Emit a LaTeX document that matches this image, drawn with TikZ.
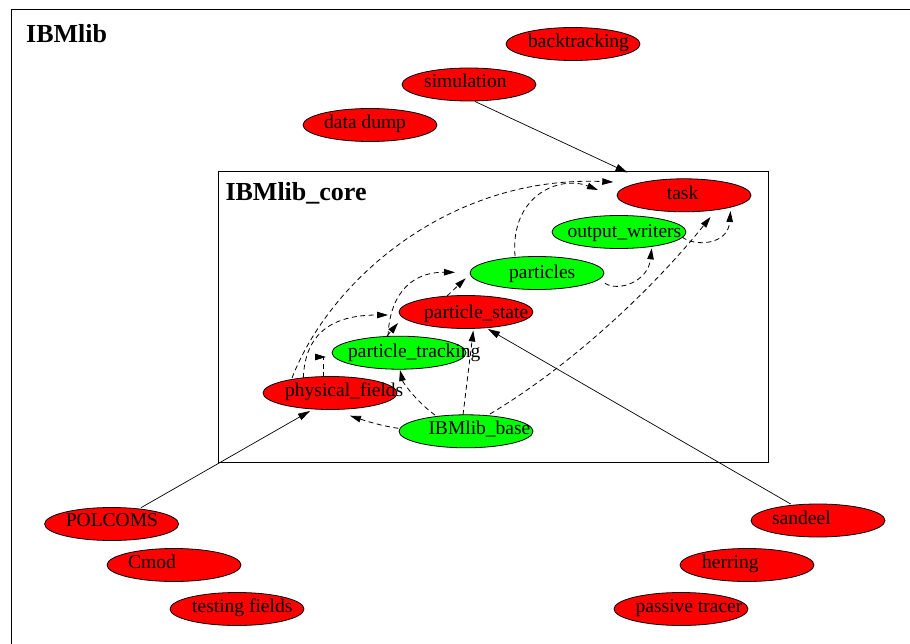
\documentclass[tikz,border=0pt]{standalone}
\usepackage{fontspec}
\setmainfont{Liberation Serif}
\usetikzlibrary{arrows.meta,shapes.geometric}
\tikzset{
  blob/.style={ellipse, draw=black, line width=0.8pt, minimum width=134pt, minimum height=33pt, inner sep=0pt},
  redblob/.style={blob, fill=red},
  greenblob/.style={blob, fill=green},
  lbl/.style={anchor=base west, inner sep=0pt, font=\fontsize{19.5pt}{22pt}\selectfont},
  ttl/.style={anchor=base west, inner sep=0pt, font=\bfseries\fontsize{26pt}{30pt}\selectfont},
  frame/.style={line width=0.8pt},
  solidarrow/.style={line width=0.7pt, -{Triangle[length=12pt,width=7pt]}},
  dasharrow/.style={line width=0.8pt, dash pattern=on 5pt off 3.5pt, -{Triangle[length=11pt,width=6.5pt]}},
}
\begin{document}
\begin{tikzpicture}[x=1pt,y=-1pt]
\useasboundingbox (0,0) rectangle (910,644);
% frames
\draw[frame] (11,644) -- (11,9) -- (910,9);
\draw[frame] (218.3,171.7) rectangle (768.3,462.3);
\node[ttl] (outerT) at (26,42.3) {IBMlib};
\node[ttl] (innerT) at (225.3,201) {IBMlib\_core};
% nodes
\node[redblob] (backtracking) at (573,44) {};
\node[redblob] (simulation) at (469,84.5) {};
\node[redblob] (datadump) at (370,125) {};
\node[redblob] (task) at (684,195.3) {};
\node[greenblob] (outw) at (619,232) {};
\node[greenblob] (particles) at (537,273) {};
\node[redblob] (pstate) at (466,312) {};
\node[greenblob] (ptrack) at (399,352.7) {};
\node[redblob] (pfields) at (330,393) {};
\node[greenblob] (base) at (466,431.3) {};
\node[redblob] (polcoms) at (111.6,524) {};
\node[redblob] (cmod) at (174,565) {};
\node[redblob] (testing) at (237,609) {};
\node[redblob] (sandeel) at (818,520.5) {};
\node[redblob] (herring) at (747,565) {};
\node[redblob] (passive) at (681,609) {};
% labels
\node[lbl] (backtrackingL) at (528,47.7) {backtracking};
\node[lbl] (simulationL) at (424,87.3) {simulation};
\node[lbl] (datadumpL) at (324,128.3) {data dump};
\node[lbl] (taskL) at (666.7,200) {task};
\node[lbl] (outwL) at (567.3,237.7) {output\_writers};
\node[lbl] (particlesL) at (509,278.3) {particles};
\node[lbl] (pstateL) at (424,318.3) {particle\_state};
\node[lbl] (ptrackL) at (348,357.3) {particle\_tracking};
\node[lbl] (pfieldsL) at (285,396.7) {physical\_fields};
\node[lbl] (baseL) at (428.3,434) {IBMlib\_base};
\node[lbl] (polcomsL) at (65.7,526.7) {POLCOMS};
\node[lbl] (cmodL) at (128,568) {Cmod};
\node[lbl] (testingL) at (192,612) {testing fields};
\node[lbl] (sandeelL) at (772,524) {sandeel};
\node[lbl] (herringL) at (702,568) {herring};
\node[lbl] (passiveL) at (635.5,612) {passive tracer};
% solid edges
\draw[solidarrow] ([shift={(6,17)}]simulation.center) -- ([shift={(-56.5,-22.8)}]task.center);
\draw[solidarrow] ([shift={(29.4,-16.3)}]polcoms.center) -- ([shift={(-20,18)}]pfields.center);
\draw[solidarrow] ([shift={(-27.3,-16.5)}]sandeel.center) -- ([shift={(22,17)}]pstate.center);
% dashed edges
\draw[dasharrow] ([shift={(-67.7,-3)}]base.center) .. controls (382,426) and (366,421) .. ([shift={(20,22.7)}]pfields.center);
\draw[dasharrow] ([shift={(-31,-16.3)}]base.center) .. controls (418,403) and (403,383) .. ([shift={(1,17.3)}]ptrack.center);
\draw[dasharrow] ([shift={(-3,-16.3)}]base.center) -- ([shift={(7.3,18.5)}]pstate.center);
\draw[dasharrow] ([shift={(24,-17.3)}]base.center) .. controls (580,360) and (660,280) .. ([shift={(26.5,21.7)}]task.center);
\draw[dasharrow] ([shift={(63,5)}]outw.center) .. controls (695,247) and (728,245) .. ([shift={(46.5,15.7)}]task.center);
\draw[dasharrow] ([shift={(68,10.3)}]particles.center) .. controls (618,292) and (648,282) .. ([shift={(32.7,16.3)}]outw.center);
\draw[dasharrow] ([shift={(-22,-17)}]particles.center) .. controls (510,195) and (560,175) .. ([shift={(-86,-5.3)}]task.center);
\draw[dasharrow] ([shift={(-38,-15)}]pfields.center) .. controls (330,280) and (450,175) .. ([shift={(-70.7,-13.3)}]task.center);
\draw[dasharrow] ([shift={(-26.7,-15)}]pfields.center) .. controls (305,335) and (330,315) .. ([shift={(-78,3)}]pstate.center);
\draw[dasharrow] ([shift={(-6.7,-16)}]pfields.center) -- (323.3,357) -- ([shift={(-73,4.3)}]ptrack.center);
\draw[dasharrow] ([shift={(-12,-16.7)}]ptrack.center) -- ([shift={(-68,11)}]pstate.center);
\draw[dasharrow] ([shift={(-11,-16.7)}]ptrack.center) .. controls (390,290) and (415,272) .. ([shift={(-82,-0.7)}]particles.center);
\draw[dasharrow] ([shift={(-19,-16)}]pstate.center) -- ([shift={(-71.3,5.3)}]particles.center);
\end{tikzpicture}
\end{document}
